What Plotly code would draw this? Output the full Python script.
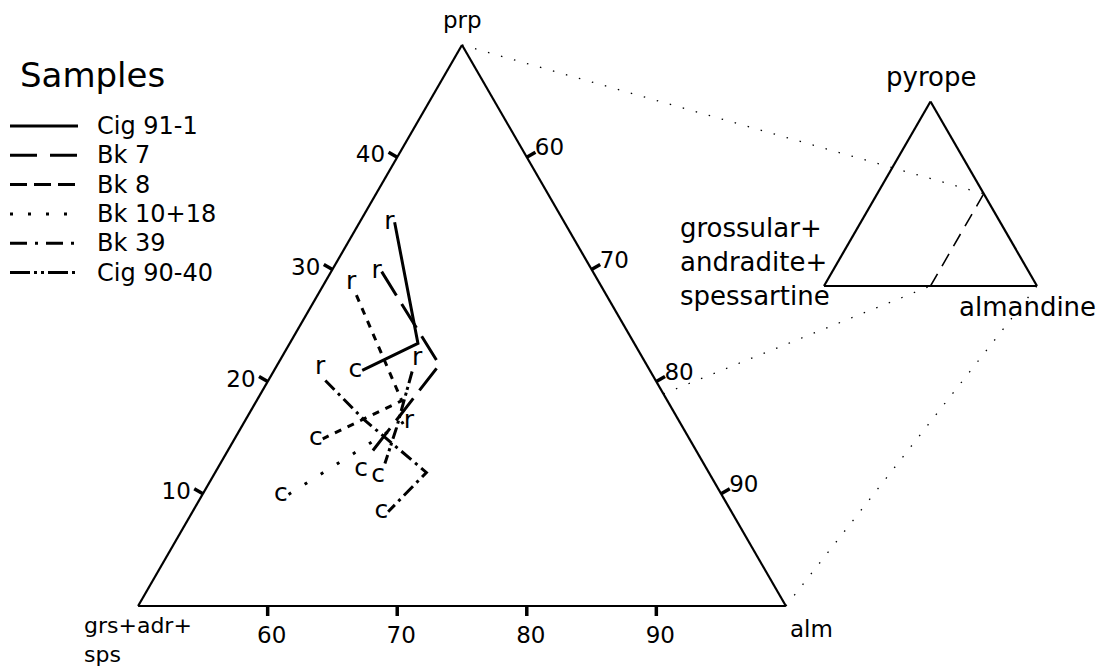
import math
import plotly.graph_objects as go

FIG_W, FIG_H = 1107, 669
FONT = "DejaVu Sans"

# ---------------- data (mol %) ----------------
series_names = ["Cig 91-1", "Bk 7", "Bk 8", "Bk 10+18", "Bk 39", "Cig 90-40"]
prp_vals = [
    [34.2, 23.4, 21.0],
    [29.8, 21.5, 13.3],
    [27.7, 18.3, 14.9],
    [16.4, 9.9],
    [20.1, 16.7, 11.9, 8.4],
    [20.9, 15.9, 12.7],
]
alm_vals = [
    [52.7, 59.9, 56.8],
    [53.9, 62.5, 61.1],
    [53.0, 61.2, 56.8],
    [62.3, 56.6],
    [54.4, 59.0, 66.3, 65.1],
    [60.7, 62.0, 62.7],
]
grs_vals = [
    [13.1, 16.7, 22.2],
    [16.3, 16.0, 25.6],
    [19.3, 20.5, 28.3],
    [21.3, 33.5],
    [25.5, 24.3, 21.8, 26.5],
    [18.4, 22.1, 24.6],
]
point_labels = [
    ["r", "", "c"],
    ["r", "", "c"],
    ["r", "", "c"],
    ["r", "c"],
    ["r", "", "", "c"],
    ["r", "", "c"],
]
label_pos = [
    ["middle left", "middle left", "middle left"],
    ["middle left", "middle left", "bottom left"],
    ["top left", "middle left", "middle left"],
    ["middle right", "middle left"],
    ["top left", "middle left", "middle left", "middle left"],
    ["top right", "middle left", "bottom left"],
]

prp_ticks = [10, 20, 30, 40]
grs_ticks = [40, 30, 20, 10]
grs_ticktext = ["60", "70", "80", "90"]
alm_ticks = [60, 70, 80, 90]

# inset: the alm >= 50 field outlined in the full diagram
inset_prp = [0, 50]
inset_grs = [50, 0]
inset_alm = [50, 50]

# ---------------- styles ----------------
data_dash = ["solid", "28px,10px", "7px,7px", "3px,16px", "13px,5px,3px,5px",
             "12px,4px,3px,3px,3px,4px"]
legend_dash = ["solid", "27px,13px", "17px,7px", "3px,15px", "17px,8px,3px,8px",
               "20px,4px,3px,4px,3px,4px"]

MAIN_DOM_X = [138 / FIG_W, 786 / FIG_W]
MAIN_DOM_Y = [1 - 606 / FIG_H, 1 - 45 / FIG_H]
MAIN_MINS = (0, 0, 50)
INSET_DOM_X = [824 / FIG_W, 1037 / FIG_W]
INSET_DOM_Y = [1 - 286 / FIG_H, 1 - 101.5 / FIG_H]
INSET_MINS = (0, 0, 0)
TICK_LEN, TICK_W = 10, 3.5


def tern_px(dom_x, dom_y, mins, a, b, c):
    """Pixel position of a ternary point, following plotly's ternary layout."""
    wmax = (dom_x[1] - dom_x[0]) * FIG_W
    hmax = (dom_y[1] - dom_y[0]) * FIG_H
    r = 2 / math.sqrt(3)
    if wmax > r * hmax:
        h = hmax
        w = h * r
    else:
        w = wmax
        h = w / r
    x0 = FIG_W * (dom_x[0] + dom_x[1]) / 2 - w / 2
    y0 = FIG_H * (1 - (dom_y[0] + dom_y[1]) / 2) - h / 2
    tot = a + b + c
    a, b, c = 100 * a / tot, 100 * b / tot, 100 * c / tot
    span = 100 - sum(mins)
    ap = (a - mins[0]) / span
    cp = (c - mins[2]) / span
    return x0 + w * (cp + ap / 2), y0 + h * (1 - ap)


def paper(pt):
    return pt[0] / FIG_W, 1 - pt[1] / FIG_H


fig = go.Figure()

for i, name in enumerate(series_names):
    fig.add_trace(go.Scatterternary(
        a=prp_vals[i], b=grs_vals[i], c=alm_vals[i],
        mode="lines+text",
        text=point_labels[i],
        textposition=label_pos[i],
        textfont=dict(family=FONT, size=25, color="black"),
        line=dict(color="black", width=3, dash=data_dash[i]),
        name=name, showlegend=False, subplot="ternary",
    ))

fig.add_trace(go.Scatterternary(
    a=inset_prp, b=inset_grs, c=inset_alm, mode="lines",
    line=dict(color="black", width=1.6, dash="14px,9px"),
    showlegend=False, subplot="ternary2",
))


def axis(mins, tickvals=None, ticktext=None, show=True):
    d = dict(
        min=mins, title=dict(text=""),
        showgrid=False, showline=True, linecolor="black", linewidth=2.2,
    )
    if show:
        # labels from plotly; the tick marks themselves are drawn perpendicular below
        d.update(tickmode="array", tickvals=tickvals, ticks="outside", ticklen=8,
                 tickwidth=1, tickcolor="rgba(0,0,0,0)",
                 tickfont=dict(family=FONT, size=23, color="black"))
        if ticktext is not None:
            d["ticktext"] = ticktext
    else:
        d.update(showticklabels=False, ticks="")
    return d


fig.update_layout(
    width=FIG_W, height=FIG_H,
    margin=dict(l=0, r=0, t=0, b=0),
    paper_bgcolor="white", plot_bgcolor="white",
    ternary=dict(
        sum=100, domain=dict(x=MAIN_DOM_X, y=MAIN_DOM_Y), bgcolor="white",
        aaxis=axis(MAIN_MINS[0], prp_ticks),
        baxis=axis(MAIN_MINS[1], grs_ticks, grs_ticktext),
        caxis=axis(MAIN_MINS[2], alm_ticks),
    ),
    ternary2=dict(
        sum=100, domain=dict(x=INSET_DOM_X, y=INSET_DOM_Y), bgcolor="rgba(0,0,0,0)",
        aaxis=axis(0, show=False),
        baxis=axis(0, show=False),
        caxis=axis(0, show=False),
    ),
)

shapes = []
annotations = []
dot_line = dict(color="black", width=1.3, dash="1.5px,12px")


def main_px(a, b, c):
    return tern_px(MAIN_DOM_X, MAIN_DOM_Y, MAIN_MINS, a, b, c)


def inset_px(a, b, c):
    return tern_px(INSET_DOM_X, INSET_DOM_Y, INSET_MINS, a, b, c)


# perpendicular tick marks on the three edges of the main diagram
s3 = math.sqrt(3) / 2
tick_sets = [
    ([main_px(v, 50 - v, 50) for v in prp_ticks], (-s3, -0.5)),
    ([main_px(0, v, 100 - v) for v in grs_ticks], (0, 1)),
    ([main_px(100 - v, 0, v) for v in alm_ticks], (s3, -0.5)),
]
for pts, (nx, ny) in tick_sets:
    for (px, py) in pts:
        x0, y0 = paper((px, py))
        x1, y1 = paper((px + TICK_LEN * nx, py + TICK_LEN * ny))
        shapes.append(dict(type="line", xref="paper", yref="paper",
                           x0=x0, y0=y0, x1=x1, y1=y1,
                           line=dict(color="black", width=TICK_W)))

# connectors between the field corners in the main diagram and the inset
m_top, m_left, m_right = main_px(50, 0, 50), main_px(0, 50, 50), main_px(0, 0, 100)
i_top, i_left, i_right = inset_px(50, 0, 50), inset_px(0, 50, 50), inset_px(0, 0, 100)


def intersect(p1, p2, p3, p4):
    d = (p2[0] - p1[0]) * (p4[1] - p3[1]) - (p2[1] - p1[1]) * (p4[0] - p3[0])
    t = ((p3[0] - p1[0]) * (p4[1] - p3[1]) - (p3[1] - p1[1]) * (p4[0] - p3[0])) / d
    return p1[0] + t * (p2[0] - p1[0]), p1[1] + t * (p2[1] - p1[1])


m_left_out = intersect(m_left, i_left, m_top, m_right)
for s, e in [(m_top, i_top), (m_left_out, i_left), (m_right, i_right)]:
    x0, y0 = paper(s)
    x1, y1 = paper(e)
    shapes.append(dict(type="line", xref="paper", yref="paper",
                       x0=x0, y0=y0, x1=x1, y1=y1, line=dot_line))

# corner labels of the main diagram
MAIN_FONT = dict(family=FONT, size=23, color="black")
tx, ty = paper(m_top)
annotations.append(dict(x=tx, y=ty, xref="paper", yref="paper", text="prp",
                        showarrow=False, xanchor="center", yanchor="bottom", yshift=10,
                        font=MAIN_FONT))
mx, my = paper(m_left)
annotations.append(dict(x=mx, y=my, xref="paper", yref="paper", text="grs+adr+<br>sps",
                        showarrow=False, xanchor="center", yanchor="top", align="left",
                        yshift=-5, font=dict(family=FONT, size=22, color="black")))
rx, ry = paper(m_right)
annotations.append(dict(x=rx, y=ry, xref="paper", yref="paper", text="alm",
                        showarrow=False, xanchor="left", yanchor="top", xshift=2, yshift=-8,
                        font=MAIN_FONT))

# inset labels
INSET_FONT = dict(family=FONT, size=26, color="black")
tx, ty = paper(inset_px(100, 0, 0))
annotations.append(dict(x=tx, y=ty, xref="paper", yref="paper", text="pyrope",
                        showarrow=False, xanchor="center", yanchor="bottom", yshift=8,
                        font=INSET_FONT))
lx, ly = paper(inset_px(0, 100, 0))
annotations.append(dict(x=lx, y=ly, xref="paper", yref="paper",
                        text="grossular+<br>andradite+<br>spessartine",
                        showarrow=False, xanchor="right", yanchor="middle", align="left",
                        xshift=8, yshift=24, font=INSET_FONT))
rx, ry = paper(inset_px(0, 0, 100))
annotations.append(dict(x=rx, y=ry, xref="paper", yref="paper", text="almandine",
                        showarrow=False, xanchor="center", yanchor="top", xshift=-10, yshift=-4,
                        font=INSET_FONT))

# hand-drawn style legend
LEG_TITLE_Y = 75
LEG_Y0, LEG_DY = 126, 29.3
LEG_X0, LEG_X1, LEG_TX = 10, 78, 95
annotations.append(dict(x=18 / FIG_W, y=1 - LEG_TITLE_Y / FIG_H, xref="paper", yref="paper",
                        text="Samples", showarrow=False, xanchor="left", yanchor="middle",
                        font=dict(family=FONT, size=34, color="black")))
for i, name in enumerate(series_names):
    yy = 1 - (LEG_Y0 + i * LEG_DY) / FIG_H
    shapes.append(dict(type="line", xref="paper", yref="paper",
                       x0=LEG_X0 / FIG_W, x1=LEG_X1 / FIG_W, y0=yy, y1=yy,
                       line=dict(color="black", width=3, dash=legend_dash[i])))
    annotations.append(dict(x=LEG_TX / FIG_W, y=yy, xref="paper", yref="paper", text=name,
                            showarrow=False, xanchor="left", yanchor="middle",
                            font=dict(family=FONT, size=24, color="black")))

fig.update_layout(shapes=shapes, annotations=annotations)
fig.write_html("out.html")
